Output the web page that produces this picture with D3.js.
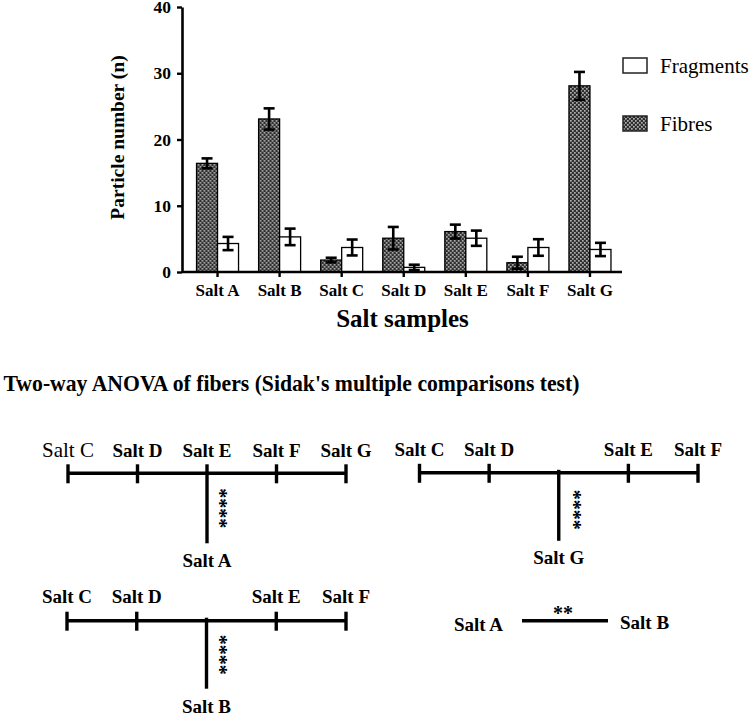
<!DOCTYPE html>
<html>
<head>
<meta charset="utf-8">
<script src="https://cdn.jsdelivr.net/npm/d3@7"></script>
<style>
  html, body { margin: 0; padding: 0; background: #fff; }
</style>
</head>
<body>
<svg id="chart" width="749" height="715"></svg>
<script>
// ---------- data ----------
const categories = ["Salt A", "Salt B", "Salt C", "Salt D", "Salt E", "Salt F", "Salt G"];
const fibres       = [16.4, 23.1, 1.8, 5.1, 6.1, 1.4, 28.1];
const fibresErr    = [0.75, 1.6, 0.35, 1.7, 1.05, 0.9, 2.1];
const fragments    = [4.3, 5.3, 3.7, 0.7, 5.1, 3.7, 3.4];
const fragmentsErr = [1.0, 1.25, 1.2, 0.4, 1.15, 1.25, 1.0];
const yTicks = [0, 10, 20, 30, 40];
const seriesNames = ["Fibres", "Fragments"];
const legendOrder = ["Fragments", "Fibres"];
const yTitle = "Particle number (n)";
const xTitle = "Salt samples";

const anovaTitle = "Two-way ANOVA of fibers (Sidak's multiple comparisons test)";
const comp1Top = ["Salt C", "Salt D", "Salt E", "Salt F", "Salt G"];
const comp1Ref = "Salt A";
const comp1Sig = "****";
const comp2Top = ["Salt C", "Salt D", "", "Salt E", "Salt F"];
const comp2Ref = "Salt G";
const comp2Sig = "****";
const comp3Top = ["Salt C", "Salt D", "", "Salt E", "Salt F"];
const comp3Ref = "Salt B";
const comp3Sig = "****";
const comp4Pair = ["Salt A", "Salt B"];
const comp4Sig = "**";

// ---------- setup ----------
const FONT = "'Liberation Serif', 'Times New Roman', serif";
const svg = d3.select("#chart").style("font-family", FONT);
const defs = svg.append("defs");
const pat = defs.append("pattern").attr("id", "checker")
  .attr("patternUnits", "userSpaceOnUse").attr("width", 4).attr("height", 4);
pat.append("rect").attr("width", 4).attr("height", 4).attr("fill", "#2e2e2e");
pat.append("rect").attr("x", 0).attr("y", 0).attr("width", 1.7).attr("height", 1.7).attr("fill", "#b0b0b0");
pat.append("rect").attr("x", 2).attr("y", 2).attr("width", 1.7).attr("height", 1.7).attr("fill", "#b0b0b0");

const fillFor = s => s === "Fibres" ? "url(#checker)" : "#fff";

const y = d3.scaleLinear().domain([0, 40]).range([272, 7]);
const x = d3.scaleBand().domain(categories).range([186.5, 621]).padding(0);
const barW = 21;
const x1 = d3.scaleBand().domain(seriesNames).range([-barW, barW]);

const rows = categories.map((c, i) => ({
  cat: c,
  vals: [
    { s: "Fibres", v: fibres[i], e: fibresErr[i] },
    { s: "Fragments", v: fragments[i], e: fragmentsErr[i] }
  ]
}));

const g = svg.append("g");

// bars
const grp = g.selectAll(".grp").data(rows).join("g")
  .attr("transform", d => `translate(${x(d.cat) + x.bandwidth() / 2},0)`);
grp.selectAll("rect").data(d => d.vals).join("rect")
  .attr("x", d => x1(d.s))
  .attr("y", d => y(d.v))
  .attr("width", x1.bandwidth())
  .attr("height", d => y(0) - y(d.v))
  .attr("fill", d => fillFor(d.s))
  .attr("stroke", "#000").attr("stroke-width", 1.3);

// error bars
const eb = grp.selectAll(".eb").data(d => d.vals).join("g")
  .attr("transform", d => `translate(${x1(d.s) + x1.bandwidth() / 2},0)`)
  .attr("stroke", "#000").attr("stroke-width", 2.6);
eb.append("line").attr("y1", d => y(d.v + d.e)).attr("y2", d => y(Math.max(0, d.v - d.e)));
eb.append("line").attr("x1", -5.5).attr("x2", 5.5).attr("y1", d => y(d.v + d.e)).attr("y2", d => y(d.v + d.e));
eb.append("line").attr("x1", -5.5).attr("x2", 5.5).attr("y1", d => y(Math.max(0, d.v - d.e))).attr("y2", d => y(Math.max(0, d.v - d.e)));

// y axis
const yAx = g.append("g").attr("transform", "translate(182,0)")
  .call(d3.axisLeft(y).tickValues(yTicks).tickSize(5).tickPadding(6).tickSizeOuter(0));
yAx.attr("font-family", null);
yAx.select(".domain").attr("stroke-width", 2.6);
yAx.selectAll(".tick line").attr("stroke-width", 2.4);
yAx.selectAll("text").style("font-family", FONT).style("font-size", "17.5px").style("font-weight", "bold").attr("fill", "#000");

// x axis
const xAx = g.append("g").attr("transform", `translate(0,${y(0)})`)
  .call(d3.axisBottom(x).tickSize(5).tickPadding(7).tickSizeOuter(0));
xAx.attr("font-family", null);
xAx.select(".domain").remove();
xAx.append("line").attr("x1", 182).attr("x2", 622).attr("stroke", "#000").attr("stroke-width", 2.6);
xAx.selectAll(".tick line").attr("stroke-width", 2.4);
xAx.selectAll("text").style("font-family", FONT).style("font-size", "17px").style("font-weight", "bold").attr("fill", "#000");

// axis titles
g.append("text").attr("transform", "translate(124,137.5) rotate(-90)")
  .attr("text-anchor", "middle").style("font-family", FONT).style("font-size", "19.5px").style("font-weight", "bold").text(yTitle);
g.append("text").attr("x", 402.5).attr("y", 327)
  .attr("text-anchor", "middle").style("font-family", FONT).style("font-size", "25px").style("font-weight", "bold").text(xTitle);

// legend
const lg = g.selectAll(".lg").data(legendOrder).join("g")
  .attr("transform", (d, i) => `translate(623,${58 + i * 58})`);
lg.append("rect").attr("width", 24).attr("height", 15)
  .attr("fill", d => fillFor(d)).attr("stroke", "#222").attr("stroke-width", 1.5);
lg.append("text").attr("x", 37).attr("y", 14.5).style("font-family", FONT).style("font-size", "21px").text(d => d);

// ---------- ANOVA section ----------
svg.append("text").attr("x", 3.5).attr("y", 391)
  .style("font-family", FONT).style("font-size", "24px").style("font-weight", "bold")
  .attr("textLength", 576).attr("lengthAdjust", "spacingAndGlyphs")
  .text(anovaTitle);

function drawComparison(cfg) {
  const p = d3.scalePoint().domain(d3.range(cfg.top.length)).range(cfg.range);
  const cg = svg.append("g");
  const hub = p(cfg.hub);
  cg.append("line").attr("x1", p(0)).attr("x2", p(cfg.top.length - 1))
    .attr("y1", cfg.lineY).attr("y2", cfg.lineY)
    .attr("stroke", "#000").attr("stroke-width", 3.6);
  cg.selectAll(".tk").data(cfg.top.map((t, i) => ({ t, i }))).join("line")
    .attr("x1", d => p(d.i)).attr("x2", d => p(d.i))
    .attr("y1", d => d.t === "" ? cfg.lineY - 3 : cfg.lineY - 9)
    .attr("y2", d => d.i === cfg.hub ? cfg.lineY + cfg.stem : cfg.lineY + 10)
    .attr("stroke", "#000").attr("stroke-width", 3.4);
  cg.selectAll(".lb").data(cfg.top.map((t, i) => ({ t, i })).filter(d => d.t !== "")).join("text")
    .attr("x", d => p(d.i)).attr("y", cfg.lineY - cfg.labelGap)
    .attr("text-anchor", "middle")
    .style("font-family", FONT)
    .style("font-size", d => (cfg.regularFirst && d.i === 0) ? "21px" : "19px")
    .style("font-weight", d => (cfg.regularFirst && d.i === 0) ? "normal" : "bold")
    .text(d => d.t);
  cg.append("text").attr("x", hub).attr("y", cfg.lineY + cfg.refGap)
    .attr("text-anchor", "middle").style("font-family", FONT).style("font-size", "19px").style("font-weight", "bold").text(cfg.ref);
  // significance stars, written downward beside the stem
  cg.append("text")
    .attr("transform", `translate(${hub + cfg.starDx - 10},${cfg.lineY + cfg.starTop}) rotate(90)`)
    .style("font-family", FONT).style("font-size", "20px").style("font-weight", "bold")
    .text(cfg.sig);
}

drawComparison({ top: comp1Top, ref: comp1Ref, sig: comp1Sig, hub: 2, range: [68, 346],
  lineY: 473.3, stem: 70, labelGap: 16, refGap: 94, starDx: 16, starTop: 15, regularFirst: true });
drawComparison({ top: comp2Top, ref: comp2Ref, sig: comp2Sig, hub: 2, range: [419.5, 698],
  lineY: 472.8, stem: 68, labelGap: 17, refGap: 91, starDx: 18, starTop: 17 });
drawComparison({ top: comp3Top, ref: comp3Ref, sig: comp3Sig, hub: 2, range: [67, 346],
  lineY: 620.7, stem: 68, labelGap: 17.7, refGap: 92, starDx: 16.5, starTop: 14 });

// pair comparison
const pairG = svg.append("g");
const px = d3.scalePoint().domain(comp4Pair).range([503, 620]);
pairG.append("text").attr("x", px(comp4Pair[0])).attr("y", 631).attr("text-anchor", "end")
  .style("font-family", FONT).style("font-size", "19px").style("font-weight", "bold").text(comp4Pair[0]);
pairG.append("text").attr("x", px(comp4Pair[1])).attr("y", 629).attr("text-anchor", "start")
  .style("font-family", FONT).style("font-size", "19px").style("font-weight", "bold").text(comp4Pair[1]);
pairG.append("line").attr("x1", px(comp4Pair[0]) + 19).attr("x2", px(comp4Pair[1]) - 12)
  .attr("y1", 620.7).attr("y2", 620.7).attr("stroke", "#000").attr("stroke-width", 3.6);
pairG.append("text").attr("x", 563).attr("y", 620).attr("text-anchor", "middle")
  .style("font-family", FONT).style("font-size", "20px").style("font-weight", "bold").text(comp4Sig);
</script>
</body>
</html>
